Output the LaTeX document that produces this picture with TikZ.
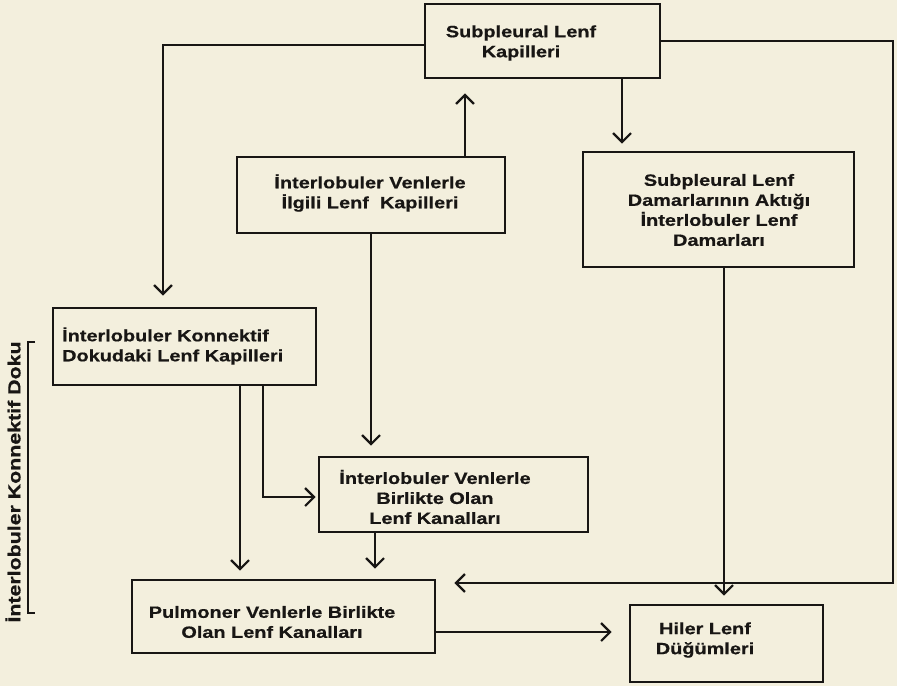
\documentclass[tikz,border=0pt]{standalone}
\usepackage{fontspec}
\setmainfont{Liberation Sans}
\newfontfamily\boxfont[FakeStretch=1.22,FakeBold=0.6]{Liberation Sans Bold}
\usetikzlibrary{arrows.meta,calc}
\definecolor{paper}{RGB}{243,239,221}
\definecolor{ink}{RGB}{24,22,20}
\tikzset{
  boxshape/.style={draw=ink, line width=2.8pt, rectangle, inner sep=0pt},
  boxtext/.style={text=ink, font=\boxfont\fontsize{16.3}{20}\selectfont, align=center, inner sep=0pt},
  arr/.style={draw=ink, line width=2.2pt, -{Straight Barb[length=9pt,width=18pt,line width=2.2pt]}},
  plainline/.style={draw=ink, line width=2.2pt}
}
\begin{document}
\begin{tikzpicture}[x=1pt,y=-1pt]
\fill[paper] (0,0) rectangle (897,686);
\useasboundingbox (0,0) rectangle (897,686);

% boxes
\node[boxshape, minimum width=235pt, minimum height=74pt] (b1) at (542.5,41) {};
\node[boxshape, minimum width=268pt, minimum height=76pt] (b2) at (371,195) {};
\node[boxshape, minimum width=271pt, minimum height=115pt] (b3) at (718.5,209.5) {};
\node[boxshape, minimum width=263pt, minimum height=77pt] (b4) at (184.5,346.5) {};
\node[boxshape, minimum width=269pt, minimum height=75pt] (b5) at (453.5,494.5) {};
\node[boxshape, minimum width=303pt, minimum height=73pt] (b6) at (283.5,616.5) {};
\node[boxshape, minimum width=193pt, minimum height=77pt] (b7) at (726.5,643.5) {};

% texts
\node[boxtext] (t1) at (521,43) {Subpleural Lenf\\Kapilleri};
\node[boxtext] (t2) at (370,193) {İnterlobuler Venlerle\\İlgili Lenf\ \ Kapilleri};
\node[boxtext] (t3) at (719,210) {Subpleural Lenf\\Damarlarının Aktığı\\İnterlobuler Lenf\\Damarları};
\node[boxtext, align=left, anchor=west] (t4) at (62,346) {İnterlobuler Konnektif\\Dokudaki Lenf Kapilleri};
\node[boxtext] (t5) at (435,497) {İnterlobuler Venlerle\\Birlikte Olan\\Lenf Kanalları};
\node[boxtext] (t6) at (272,622) {Pulmoner Venlerle Birlikte\\Olan Lenf Kanalları};
\node[boxtext] (t7) at (705,640) {Hiler Lenf\\Düğümleri};

% side label and bracket
\node[boxtext, font=\boxfont\fontsize{17.5}{20}\selectfont, rotate=90] (side) at (13,482) {İnterlobuler Konnektif Doku};
\draw[plainline] (35,342) -- (28,342) -- (28,613) -- (35,613);

% connectors
\coordinate (rc) at (893,583);
\draw[arr, shorten >=11pt] ([yshift=-4pt]b1.west) -| ([xshift=-21.5pt]b4.north);
\draw[arr, shorten >=14pt] ([xshift=94pt]b2.north) -- ([xshift=94pt]b2.north |- b1.south);
\draw[arr, shorten >=7pt] ([xshift=79.5pt]b1.south) -- ([xshift=79.5pt]b1.south |- b3.north);
\draw[arr, shorten >=18pt] (b1.east) -| (rc) -- ([yshift=33.5pt]b6.east);
\draw[arr, shorten >=8pt] ([xshift=5.5pt]b3.south) -- ([xshift=5.5pt]b3.south |- b7.north);
\draw[arr, shorten >=17pt] ([yshift=-15.5pt]b6.east) -- ([yshift=-15.5pt]b6.east -| b7.west);
\draw[arr, shorten >=10pt] (b2.south) -- (b2.south |- b5.north);
\draw[arr, shorten >=8pt] ([xshift=55.5pt]b4.south) -- ([xshift=55.5pt]b4.south |- b6.north);
\draw[arr, shorten >=2pt] ([xshift=78.5pt]b4.south) |- ([yshift=-2.5pt]b5.west);
\draw[arr, shorten >=10pt] ([xshift=-78.5pt]b5.south) -- ([xshift=-78.5pt]b5.south |- b6.north);
\end{tikzpicture}
\end{document}
